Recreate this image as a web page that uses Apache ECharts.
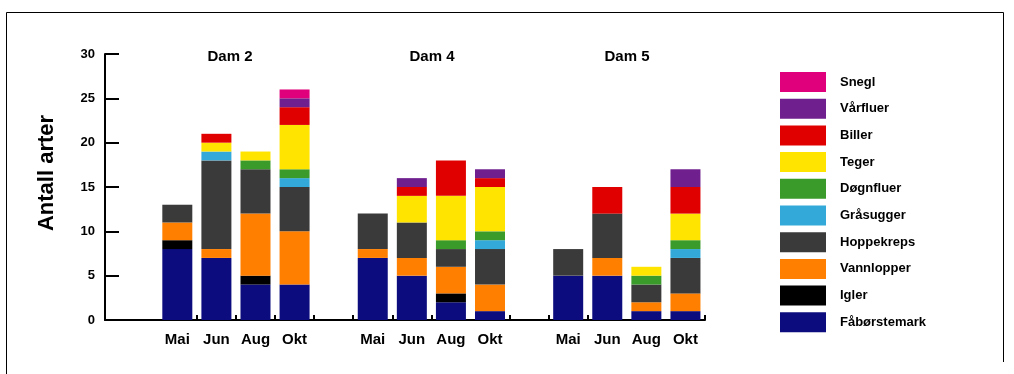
<!DOCTYPE html>
<html>
<head>
<meta charset="utf-8">
<script src="https://cdn.jsdelivr.net/npm/echarts@6/dist/echarts.min.js"></script>
<style>html,body{margin:0;padding:0;background:#fff}#c{width:1014px;height:374px}</style>
</head>
<body>
<div id="c"></div>
<script>
// ---- data ----
const dams = ['Dam 2', 'Dam 4', 'Dam 5'];
const months = ['Mai', 'Jun', 'Aug', 'Okt'];
// stacked bottom -> top; 12 values = Dam 2 (Mai,Jun,Aug,Okt), Dam 4 (...), Dam 5 (...)
const seriesNames = ['Fåbørstemark', 'Igler', 'Vannlopper', 'Hoppekreps', 'Gråsugger', 'Døgnfluer', 'Teger', 'Biller', 'Vårfluer', 'Snegl'];
const faborstemark = [8, 7, 4, 4, 7, 5, 2, 1, 5, 5, 1, 1];
const igler        = [1, 0, 1, 0, 0, 0, 1, 0, 0, 0, 0, 0];
const vannlopper   = [2, 1, 7, 6, 1, 2, 3, 3, 0, 2, 1, 2];
const hoppekreps   = [2, 10, 5, 5, 4, 4, 2, 4, 3, 5, 2, 4];
const grasugger    = [0, 1, 0, 1, 0, 0, 0, 1, 0, 0, 0, 1];
const dognfluer    = [0, 0, 1, 1, 0, 0, 1, 1, 0, 0, 1, 1];
const teger        = [0, 1, 1, 5, 0, 3, 5, 5, 0, 0, 1, 3];
const biller       = [0, 1, 0, 2, 0, 1, 4, 1, 0, 3, 0, 3];
const varfluer     = [0, 0, 0, 1, 0, 1, 0, 1, 0, 0, 0, 2];
const snegl        = [0, 0, 0, 1, 0, 0, 0, 0, 0, 0, 0, 0];
const yTicks = [0, 5, 10, 15, 20, 25, 30];
const xTickSlots = [0.5, 1.5, 2.5, 3.5, 4.5, 5.5, 6.5, 8.5, 9.5, 10.5, 13.5];

const values = [faborstemark, igler, vannlopper, hoppekreps, grasugger, dognfluer, teger, biller, varfluer, snegl];
const colors = ['#0c0c7e', '#000000', '#ff7f00', '#3a3a3a', '#33a9d9', '#3a9a2a', '#ffe400', '#e00000', '#6f1f8e', '#e0007c'];

const slotsPerDam = months.length + 1;
function xOf(i) { return Math.floor(i / months.length) * slotsPerDam + (i % months.length); }
const labelSlots = [];
for (let i = 0; i < dams.length * months.length; i++) labelSlots.push(xOf(i));

const FONT = '"Liberation Sans", Arial, sans-serif';

const series = seriesNames.map((name, k) => ({
  name: name,
  type: 'bar',
  stack: 'total',
  barWidth: 30,
  dimensions: ['count', 'slot'],
  encode: { x: 'slot', y: 'count' },
  itemStyle: { color: colors[k] },
  data: values[k].map((v, i) => [v, xOf(i)])
}));

const chart = echarts.init(document.getElementById('c'), null, { renderer: 'canvas' });
chart.setOption({
  animation: false,
  backgroundColor: '#ffffff',
  title: dams.map((d, j) => ({
    text: d,
    left: [230, 432, 627][j],
    top: 49,
    textAlign: 'center',
    padding: 0,
    textStyle: { fontFamily: FONT, fontWeight: 'bold', fontSize: 15, color: '#000' }
  })),
  legend: {
    orient: 'vertical',
    left: 780,
    top: 72,
    itemWidth: 46,
    itemHeight: 20,
    itemGap: 6.7,
    padding: 0,
    icon: 'rect',
    data: seriesNames.slice().reverse(),
    textStyle: { fontFamily: FONT, fontWeight: 'bold', fontSize: 13, color: '#000', padding: [0, 0, 0, 9] }
  },
  grid: { left: 105, right: 309, top: 54, bottom: 54, containLabel: false },
  xAxis: {
    type: 'value',
    min: -1.85,
    max: 13.5,
    splitLine: { show: false },
    axisLine: { show: true, onZero: false, lineStyle: { color: '#000', width: 2 } },
    axisTick: { show: true, inside: true, length: 5, lineStyle: { color: '#000', width: 2 }, customValues: xTickSlots },
    axisLabel: {
      customValues: labelSlots,
      margin: 12,
      formatter: function (v) { return months[Math.round(v) % slotsPerDam]; },
      fontFamily: FONT, fontWeight: 'bold', fontSize: 15, color: '#000'
    }
  },
  yAxis: {
    type: 'value',
    min: 0,
    max: 30,
    interval: 5,
    splitLine: { show: false },
    axisLine: { show: true, onZero: false, lineStyle: { color: '#000', width: 2 } },
    axisTick: { show: true, inside: true, length: 14, lineStyle: { color: '#000', width: 2 } },
    axisLabel: {
      margin: 10,
      formatter: function (v) { return yTicks.indexOf(v) >= 0 ? String(v) : ''; },
      fontFamily: FONT, fontWeight: 'bold', fontSize: 13, color: '#000'
    }
  },
  graphic: [
    {
      type: 'text',
      x: 47, y: 173,
      rotation: Math.PI / 2,
      style: { text: 'Antall arter', fontFamily: FONT, fontWeight: 'bold', fontSize: 22, fill: '#000', textAlign: 'center', textVerticalAlign: 'middle' }
    },
    {
      type: 'polyline',
      shape: { points: [[6.5, 374], [6.5, 12.5], [1003.5, 12.5], [1003.5, 362]] },
      style: { stroke: '#000', lineWidth: 1, fill: null }
    }
  ],
  series: series
});
</script>
</body>
</html>
